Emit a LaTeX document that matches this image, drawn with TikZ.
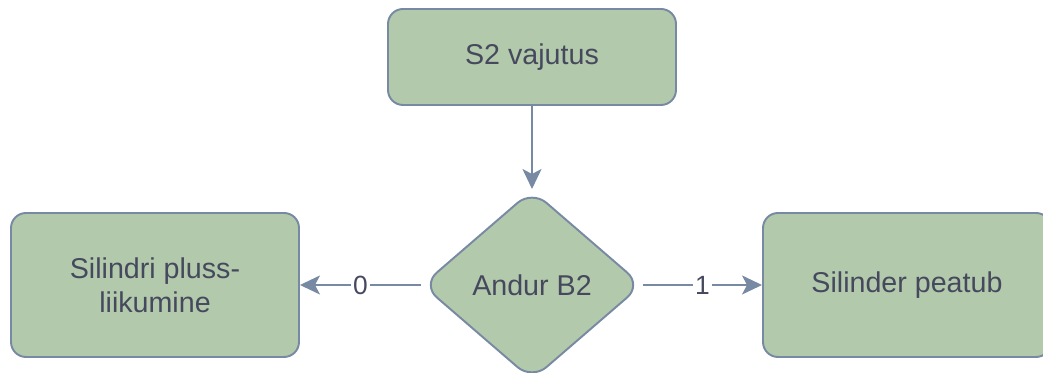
\documentclass[tikz,border=0pt]{standalone}
\usepackage{fontspec}
\setmainfont{Liberation Sans}
\usepackage{xcolor}
\usetikzlibrary{shapes.geometric,arrows.meta}

\definecolor{boxfill}{HTML}{B2C9AB}
\definecolor{boxline}{HTML}{788AA3}
\definecolor{boxtext}{HTML}{46495D}

\begin{document}
\begin{tikzpicture}[line width=1.1pt,
    stepbox/.style={draw=boxline, fill=boxfill, text=boxtext, rounded corners=0.3cm,
        minimum width=5.76cm, align=center, font=\fontsize{16.3}{19.5}\selectfont},
    decision/.style={diamond, draw=boxline, fill=boxfill, text=boxtext, rounded corners=0.38cm,
        minimum width=4.4cm, minimum height=3.8cm, inner sep=0pt, font=\fontsize{16.3}{19.5}\selectfont},
    flow/.style={draw=boxline, -{Stealth[length=0.4cm, width=0.38cm, inset=0.1cm]}},
    branch/.style={fill=white, text=boxtext, inner sep=1pt, font=\fontsize{15}{18}\selectfont}]
    \useasboundingbox (0,0) rectangle (20.86,-7.46);
    \node[stepbox, minimum height=1.92cm] (press) at (10.64,-1.14) {S2 vajutus};
    \node[decision] (sensor) at (10.64,-5.70) {Andur B2};
    \node[stepbox, minimum height=2.88cm] (extend) at (3.10,-5.70) {Silindri pluss-\\liikumine};
    \node[stepbox, minimum height=2.88cm] (stop) at (18.14,-5.70) {Silinder peatub};
    \draw[flow] (press) -- (sensor);
    \draw[flow] (sensor) -- node[branch] {0} (extend);
    \draw[flow] (sensor) -- node[branch] {1} (stop);
\end{tikzpicture}
\end{document}
